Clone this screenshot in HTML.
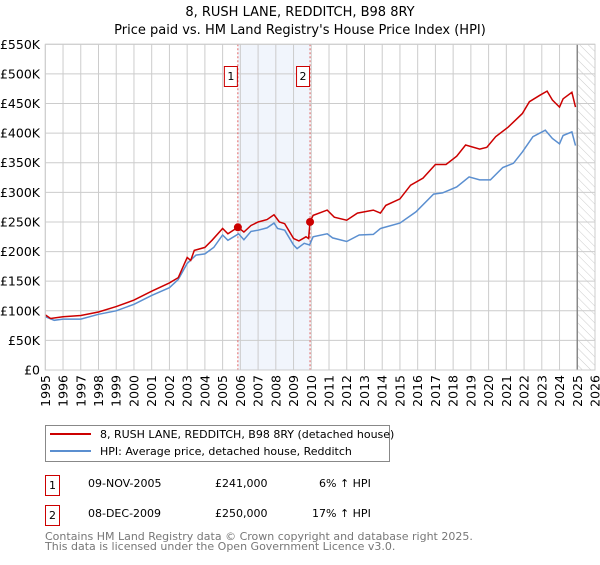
<!DOCTYPE html>
<html><head><meta charset="utf-8"><style>
body{margin:0;background:#fff;font-family:"Liberation Sans","DejaVu Sans",sans-serif;}
svg text{font-family:"DejaVu Sans","Liberation Sans",sans-serif;}
</style></head><body>
<svg id="chart" width="600" height="560" xmlns="http://www.w3.org/2000/svg">
<defs><pattern id="hatch" width="6" height="6" patternUnits="userSpaceOnUse" patternTransform="rotate(-45)"><line x1="0" y1="0" x2="0" y2="6" stroke="#ccc" stroke-width="1"/></pattern></defs>
<text x="300" y="16" text-anchor="middle" font-size="13">8, RUSH LANE, REDDITCH, B98 8RY</text>
<text x="300" y="34" text-anchor="middle" font-size="13">Price paid vs. HM Land Registry's House Price Index (HPI)</text>
<g id="plot"></g>
<g>
<rect x="45.5" y="425.5" width="344" height="36" fill="#fff" stroke="#888"/>
<line x1="50" y1="434" x2="91" y2="434" stroke="#cc0000" stroke-width="2"/>
<text x="100" y="438" font-size="11">8, RUSH LANE, REDDITCH, B98 8RY (detached house)</text>
<line x1="50" y1="451" x2="91" y2="451" stroke="#5b8fd0" stroke-width="2"/>
<text x="100" y="455" font-size="11">HPI: Average price, detached house, Redditch</text>
</g>
<g font-size="11">
<rect x="45.5" y="475.5" width="14" height="20" fill="#fff" stroke="#cc0000"/><text x="52.5" y="489" text-anchor="middle">1</text>
<text x="88" y="487">09-NOV-2005</text><text x="215" y="487">£241,000</text><text x="319" y="487">6% ↑ HPI</text>
<rect x="45.5" y="505.5" width="14" height="20" fill="#fff" stroke="#cc0000"/><text x="52.5" y="519" text-anchor="middle">2</text>
<text x="88" y="517">08-DEC-2009</text><text x="215" y="517">£250,000</text><text x="312" y="517">17% ↑ HPI</text>
</g>
<text x="45" y="540" font-size="11" fill="#777">Contains HM Land Registry data © Crown copyright and database right 2025.</text>
<text x="45" y="550" font-size="11" fill="#777">This data is licensed under the Open Government Licence v3.0.</text>
</svg>
<script>
const yTicks=[0,50,100,150,200,250,300,350,400,450,500,550];
const yTickLabels=["£0","£50K","£100K","£150K","£200K","£250K","£300K","£350K","£400K","£450K","£500K","£550K"];
const xYears=[1995,1996,1997,1998,1999,2000,2001,2002,2003,2004,2005,2006,2007,2008,2009,2010,2011,2012,2013,2014,2015,2016,2017,2018,2019,2020,2021,2022,2023,2024,2025,2026];
const saleYears=[2005.86,2009.93];
const saleValues=[241,250];
const saleLabels=["1","2"];
const hpiYears=[1995,1995.5,1996,1997,1998,1999,2000,2001,2002,2002.5,2003,2003.5,2004,2004.5,2005,2005.3,2005.9,2006.2,2006.6,2007,2007.5,2007.9,2008.1,2008.5,2009,2009.2,2009.6,2009.9,2010.1,2010.9,2011.2,2012,2012.7,2013.5,2013.9,2015,2015.9,2016.9,2017.4,2018.2,2018.9,2019.5,2020.1,2020.8,2021.4,2021.9,2022.5,2023.2,2023.6,2024.0,2024.2,2024.7,2024.9];
const hpiValues=[90,84,86,86,94,100,111,126,139,153,180,194,196,207,228,219,230,220,234,236,240,248,239,236,211,205,214,211,225,230,223,217,228,229,239,248,267,297,299,309,326,321,321,342,349,368,394,405,391,382,396,402,379];
const priceYears=[1995,1995.3,1996,1997,1998,1999,2000,2001,2002,2002.5,2003,2003.2,2003.4,2004,2004.4,2005,2005.3,2005.86,2006.2,2006.6,2007,2007.5,2007.9,2008.2,2008.5,2009,2009.3,2009.7,2009.85,2009.93,2010.1,2010.9,2011.3,2012,2012.6,2013.5,2013.9,2014.2,2015,2015.6,2016.3,2017,2017.6,2018.2,2018.7,2019.5,2019.9,2020.4,2021.1,2021.9,2022.3,2022.9,2023.3,2023.6,2024.0,2024.2,2024.7,2024.9];
const priceValues=[93,87,90,92,98,107,118,133,147,156,190,185,202,207,219,239,230,241,233,244,250,254,262,250,247,222,218,225,222,250,261,270,258,253,265,270,265,278,289,312,324,347,347,361,380,373,376,394,410,433,453,464,471,456,444,458,469,444];

const NS="http://www.w3.org/2000/svg";
const L=45.3,R=595,T=44.3,B=370;
const X=y=>L+(y-1995)/(2026-1995)*(R-L);
const Y=v=>B-v/550*(B-T);
const plot=document.getElementById('plot');
function mk(tag,attrs,parent){const e=document.createElementNS(NS,tag);for(const k in attrs)e.setAttribute(k,attrs[k]);(parent||plot).appendChild(e);return e;}

const bg=mk('rect',{x:L,y:T,width:R-L,height:B-T,fill:'#fff'});


const shade=mk('rect',{x:X(saleYears[0]),y:T,width:X(saleYears[1])-X(saleYears[0]),height:B-T,fill:'#eef2fb',opacity:0.8});


const hatch=mk('rect',{x:X(2025.0),y:T,width:R-X(2025.0),height:B-T,fill:'url(#hatch)'});



yTicks.forEach((v,i)=>{
  const g=mk('line',{x1:L,x2:R,y1:Y(v),y2:Y(v),stroke:'#ccc','stroke-width':1});
  
  
  const t=mk('text',{x:40,y:Y(v)+4.5,'text-anchor':'end','font-size':12.5});
  t.textContent=yTickLabels[i];
  
  
});
xYears.forEach(yr=>{
  const g=mk('line',{x1:X(yr),x2:X(yr),y1:T,y2:B,stroke:'#ccc','stroke-width':1});
  
  
  const t=mk('text',{x:0,y:0,'font-size':12.5,'text-anchor':'end',transform:`translate(${X(yr)+4.5},375) rotate(-90)`});
  t.textContent=yr;
  
  
});
const nowLine=mk('line',{x1:X(2025.0),x2:X(2025.0),y1:T,y2:B,stroke:'#888','stroke-width':1.5});



saleYears.forEach((yr,i)=>{
  const d=mk('line',{x1:X(yr),x2:X(yr),y1:T,y2:B,stroke:'#e06060','stroke-width':1,'stroke-dasharray':'2,2'});
  
  
});

function path(xs,vs){return xs.map((x,i)=>(i?'L':'M')+X(x).toFixed(1)+','+Y(vs[i]).toFixed(1)).join('');}
const hpi=mk('path',{d:path(hpiYears,hpiValues),fill:'none',stroke:'#5b8fd0','stroke-width':1.5});


const pr=mk('path',{d:path(priceYears,priceValues),fill:'none',stroke:'#cc0000','stroke-width':1.5});



saleYears.forEach((yr,i)=>{
  const c=mk('circle',{cx:X(yr),cy:Y(saleValues[i]),r:4,fill:'#cc0000'});
  
  
  const bx=X(yr)-14;
  const r=mk('rect',{x:bx+0.5,y:66.5,width:13,height:20,fill:'#fff',stroke:'#cc0000'});
  
  
  const t=mk('text',{x:bx+7,y:80,'text-anchor':'middle','font-size':11});
  t.textContent=saleLabels[i];
  
  
});
const frame=mk('rect',{x:L,y:T,width:R-L,height:B-T,fill:'none',stroke:'#ccc'});


</script>
</body></html>
